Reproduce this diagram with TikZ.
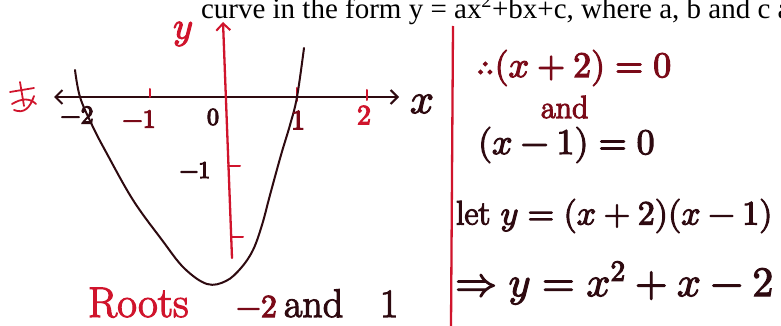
\documentclass[tikz,border=0pt]{standalone}
\usepackage{fontspec}
\usepackage{unicode-math}
\newfontfamily\timesfont{Liberation Serif}
\usetikzlibrary{arrows.meta}
\definecolor{ink}{HTML}{2E0A10}
\definecolor{pen}{HTML}{D0142C}
\definecolor{mix}{HTML}{7A0A18}
\newcommand{\fsz}[1]{\fontsize{#1}{#1}\selectfont}
\newcommand{\fat}[1]{\special{pdf:literal direct 2 Tr 1.1 w}#1\special{pdf:literal direct 0 Tr}}
\begin{document}
\begin{tikzpicture}[x=1pt,y=-1pt,
  axisline/.style={line width=2.3pt, line cap=round},
  curveline/.style={line width=2pt, line cap=round, ink},
  tickline/.style={line width=2pt, line cap=round},
  hand/.style={inner sep=0pt, outer sep=0pt},
  >={Straight Barb[length=7pt,width=14pt,line width=2pt]}]
\useasboundingbox (0,0) rectangle (781,326);
\clip (0,0) rectangle (781,326);
\fill[white] (0,0) rectangle (781,326);
% printed heading
\node[hand, anchor=base west, font=\timesfont\fsz{29}] (title) at (201,18.5)
  {curve in the form y = ax\textsuperscript{2}+bx+c, where a, b and c a};
% axes
\coordinate (xl) at (54,97);
\coordinate (xr) at (399,97);
\coordinate (yt) at (223,22);
\coordinate (yb) at (232,258);
\draw[axisline, ink, <->] (xl) -- (xr);
\draw[axisline, pen, ->] (yb) -- (yt);
% x ticks
\coordinate (t1a) at (150,89); \coordinate (t1b) at (150,97);
\coordinate (t2a) at (297,88); \coordinate (t2b) at (297,101);
\coordinate (t3a) at (367,90); \coordinate (t3b) at (367,100);
\draw[tickline, pen] (t1a) -- (t1b);
\draw[tickline, pen] (t2a) -- (t2b);
\draw[tickline, pen] (t3a) -- (t3b);
% y ticks
\coordinate (u1a) at (228,166); \coordinate (u1b) at (240,166);
\coordinate (u2a) at (231,237); \coordinate (u2b) at (243,237);
\draw[tickline, pen] (u1a) -- (u1b);
\draw[tickline, pen] (u2a) -- (u2b);
% parabola
\draw[curveline] plot[smooth, tension=0.6] coordinates {
  (75,70) (80,97) (92,125) (106,152) (133,200) (162,240) (184,268)
  (207,284) (226,281) (241,268) (253,250) (262,225) (270,195) (281,155) (290,125)
  (297,97) (304,48)};
% axis labels
\node[hand, font=\fsz{26}, ink] (lm2) at (77,115) {\fat{$-2$}};
\node[hand, font=\fsz{26}, mix] (lm1) at (139,119) {\fat{$-1$}};
\node[hand, font=\fsz{24}, ink] (l0) at (213,117) {\fat{$0$}};
\node[hand, font=\fsz{28}, mix] (l1) at (298,120) {\fat{$1$}};
\node[hand, font=\fsz{28}, pen] (l2) at (364,115) {\fat{$2$}};
\node[hand, font=\fsz{42}, ink] (lx) at (422,104) {\fat{$x$}};
\node[hand, font=\fsz{24}, ink] (ly1) at (195,170) {\fat{$-1$}};
\node[hand, font=\fsz{38}, pen] (ly) at (183,34) {\fat{$y$}};
% left scribble
\draw[pen, line width=1.8pt, line cap=round, line join=round]
  (10,92) -- (34,88) (20,82) -- (24,106) (12,104) .. controls (22,98) and (30,98) .. (36,104)
  (14,110) .. controls (24,114) and (30,108) .. (34,96);
% roots
\node[hand, anchor=base west, font=\fsz{43}, pen] (roots) at (88,317) {\fat{Roots}};
\node[hand, anchor=base west, font=\fsz{32}, mix] (rm2) at (236,317) {\fat{$-2$}};
\node[hand, anchor=base west, font=\fsz{40}, ink] (rand) at (284,317) {\fat{and}};
\node[hand, anchor=base west, font=\fsz{40}, ink] (r1) at (380,317) {\fat{1}};
% divider
\coordinate (da) at (453,26);
\coordinate (db) at (451,326);
\draw[pen, line width=2.3pt] (da) -- (db);
% right working
\node[hand, anchor=west, font=\fsz{36}, mix] (e1) at (476,68) {\fat{$\therefore(x+2)=0$}};
\node[hand, anchor=base west, font=\fsz{32}, mix] (eand) at (541,118) {\fat{and}};
\node[hand, anchor=west, font=\fsz{36}, ink] (e2) at (478,145) {\fat{$(x-1)=0$}};
\node[hand, anchor=west, font=\fsz{34}, ink] (e3) at (456,216) {\fat{let $y=(x+2)(x-1)$}};
\node[hand, anchor=west, font=\fsz{42}, ink] (e4) at (455,283) {\fat{$\Rightarrow y=x^{2}+x-2$}};
\end{tikzpicture}
\end{document}
